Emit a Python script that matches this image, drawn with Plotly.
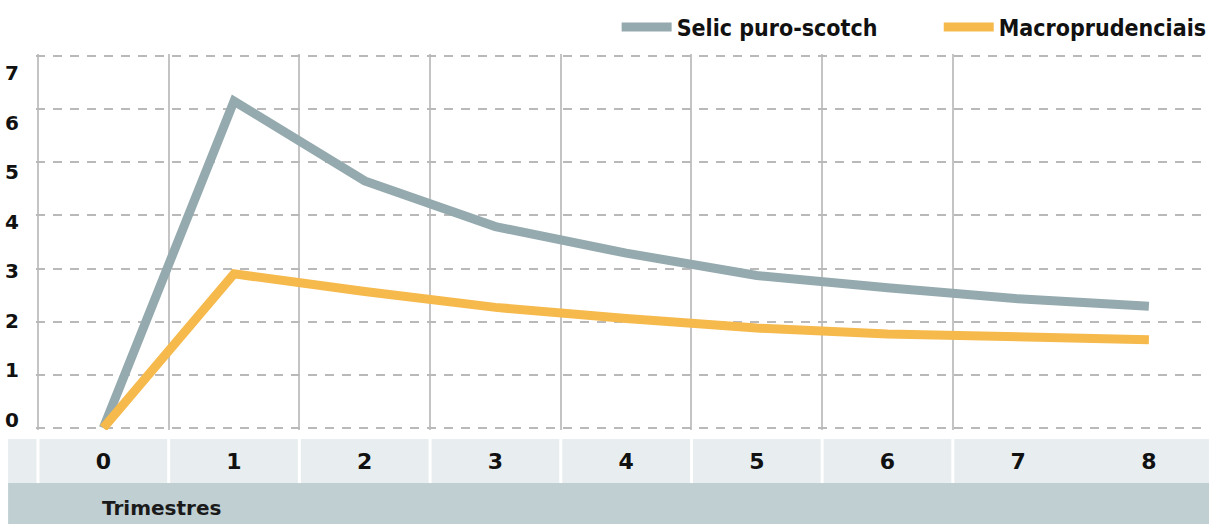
import plotly.graph_objects as go

# ---- data ----
trimestres = [0, 1, 2, 3, 4, 5, 6, 7, 8]
tick_labels = ["0", "1", "2", "3", "4", "5", "6", "7", "8"]
selic = [0, 6.15, 4.65, 3.79, 3.29, 2.87, 2.64, 2.43, 2.29]
macro = [0, 2.90, 2.57, 2.27, 2.06, 1.88, 1.77, 1.71, 1.66]
series_names = ["Selic puro-scotch", "Macroprudenciais"]
y_ticks = [0, 1, 2, 3, 4, 5, 6, 7]
x_title = "Trimestres"

GREY = "#95aaae"
ORANGE = "#f6b94c"
BOLD = "DejaVu Sans"
LEG_FONT = "DejaVu Sans Condensed, Liberation Sans Narrow, DejaVu Sans"

boundaries = [c - 0.5 for c in trimestres[:-1]]

# plot area in px: x 36..1212, y 54..430
PX_X = 1176 / 8.975
PX_Y = 376 / 7.075
ex = 2 / PX_X
ey = 2 / PX_Y

fig = go.Figure()
fig.add_trace(go.Scatter(x=trimestres, y=selic, mode="lines", name=series_names[0], legend="legend",
                         line=dict(color=GREY, width=9), cliponaxis=False, hoverinfo="skip"))
fig.add_trace(go.Scatter(x=trimestres, y=macro, mode="lines", name=series_names[1], legend="legend2",
                         line=dict(color=ORANGE, width=9), cliponaxis=False, hoverinfo="skip"))
# invisible trace to carry the label axis
fig.add_trace(go.Scatter(x=trimestres, y=macro, mode="lines", yaxis="y2", showlegend=False,
                         line=dict(color="rgba(0,0,0,0)", width=0), hoverinfo="skip"))

# bottom bands
fig.add_shape(type="rect", xref="paper", yref="paper", x0=-0.0238, x1=1.0, y0=-0.141, y1=-0.0239,
              fillcolor="#e8edef", line=dict(width=0), layer="below")
fig.add_shape(type="rect", xref="paper", yref="paper", x0=-0.0238, x1=1.0, y0=-0.26, y1=-0.141,
              fillcolor="#bfcfd2", line=dict(width=0), layer="below")
for b in boundaries:
    fig.add_shape(type="line", xref="x", yref="paper", x0=b, x1=b, y0=-0.141, y1=-0.0239,
                  line=dict(color="white", width=3))

fig.add_annotation(text=x_title, xref="paper", yref="paper", x=0.0544, y=-0.2074,
                   xanchor="left", yanchor="middle", showarrow=False,
                   font=dict(family=BOLD, size=20, color="#1a1a1a", weight="bold"))

leg_common = dict(orientation="h", y=1.0718, yanchor="middle",
                  font=dict(family=LEG_FONT, size=23, color="#111111", weight="bold"),
                  bgcolor="rgba(0,0,0,0)", itemwidth=50)

fig.update_layout(
    width=1212, height=524,
    margin=dict(l=36, r=0, t=54, b=94),
    paper_bgcolor="white", plot_bgcolor="white",
    showlegend=True,
    legend=dict(x=0.495, xanchor="left", **leg_common),
    legend2=dict(x=0.7696, xanchor="left", **leg_common),
    xaxis=dict(range=[-0.5 - ex, 8.46], tickmode="array", tickvals=trimestres, ticktext=tick_labels,
               showgrid=False, zeroline=False, showline=False,
               ticks="outside", ticklen=12, tickcolor="rgba(0,0,0,0)",
               tickfont=dict(family=BOLD, size=22, color="#111111", weight="bold"),
               minor=dict(tickmode="array", tickvals=boundaries, showgrid=True,
                          gridcolor="#c4c4c4", gridwidth=2, ticks="")),
    yaxis=dict(range=[-ey, 7 + ey], tickmode="array", tickvals=y_ticks, showticklabels=False,
               showgrid=True, gridcolor="#b9b9b9", gridwidth=2, griddash="9px,8px",
               zeroline=False, showline=False),
    yaxis2=dict(overlaying="y", side="left", range=[-0.2017, 7.383], tickmode="array",
                tickvals=y_ticks, ticktext=[str(v) for v in y_ticks], showgrid=False,
                zeroline=False, showline=False, ticks="outside", ticklen=12,
                tickcolor="rgba(0,0,0,0)",
                tickfont=dict(family=BOLD, size=20, color="#111111", weight="bold")),
)

fig.write_html("out.html")
